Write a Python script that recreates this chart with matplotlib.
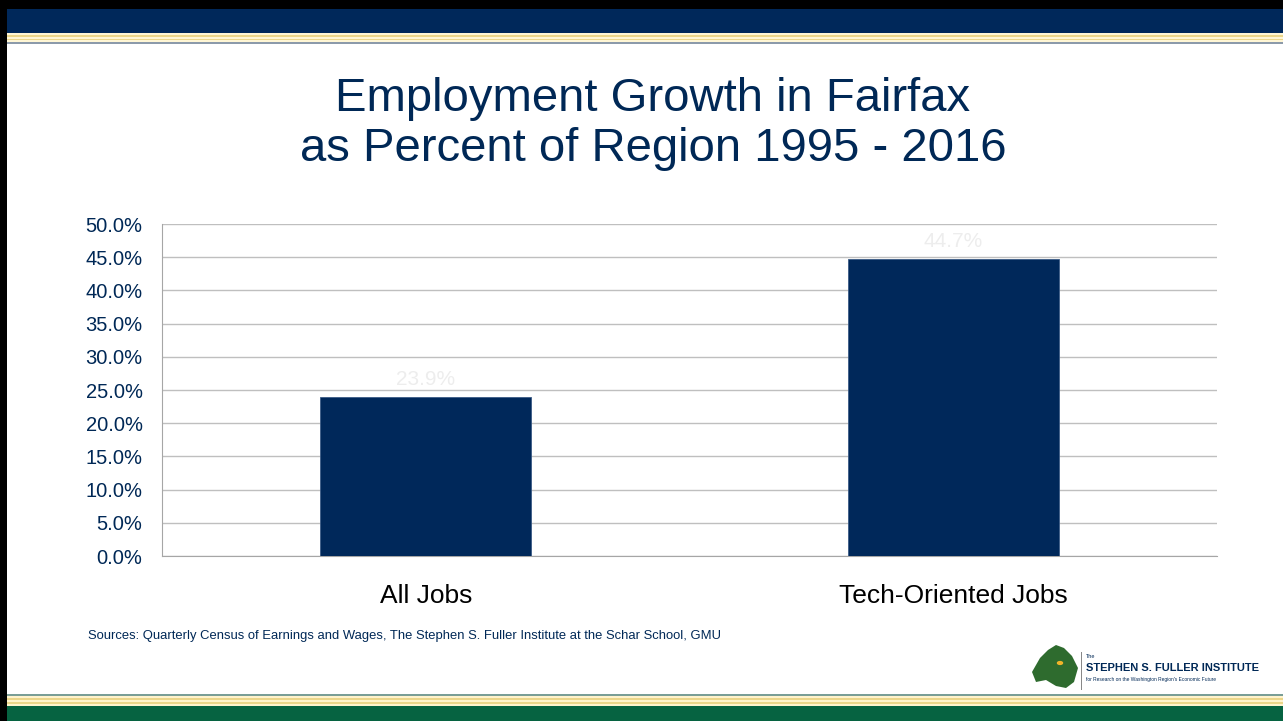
import matplotlib
matplotlib.use("Agg")
import matplotlib.pyplot as plt
from matplotlib.patches import Rectangle, Polygon

categories = ["All Jobs", "Tech-Oriented Jobs"]
values = [23.9, 44.7]
yticks = [0, 5, 10, 15, 20, 25, 30, 35, 40, 45, 50]
title = "Employment Growth in Fairfax\nas Percent of Region 1995 - 2016"
source = "Sources: Quarterly Census of Earnings and Wages, The Stephen S. Fuller Institute at the Schar School, GMU"

NAVY = "#002856"
W, H = 1283, 721
fig = plt.figure(figsize=(W/100, H/100), dpi=100)
fig.patch.set_facecolor("white")

narrow = ["Liberation Sans Narrow", "Liberation Sans", "DejaVu Sans"]
regular = ["Liberation Sans", "DejaVu Sans"]

def band(y0, y1, color, x0=0, x1=W):
    fig.add_artist(Rectangle((x0/W, 1-y1/H), (x1-x0)/W, (y1-y0)/H,
                             transform=fig.transFigure, color=color, lw=0, zorder=0))

# top decoration
band(0, 9, "black")
band(9, 33, "#00285A")
band(33, 43, "#FFF6D5")
band(35, 36.5, "#EBD68A")
band(38.5, 40, "#EBD68A")
band(42, 44, "#8C9AAA")
# bottom decoration
band(694, 695.5, "#7A9E96")
band(696, 706, "#FFF3CC")
band(698, 699.5, "#EBD68A")
band(702, 703.5, "#EBD68A")
band(706, 721, "#066341")
# left border
band(0, H, "black", 0, 7)

ax = fig.add_axes([162/W, 1-556/H, 1055/W, 332/H])
x = list(range(len(categories)))
ax.bar(x, values, width=0.4, color="#00285A", edgecolor="#3A5A85", linewidth=0.6, zorder=3)
ax.set_xlim(-0.5, len(categories)-0.5)
ax.set_ylim(0, 50)
ax.set_yticks(yticks)
ax.set_yticklabels([f"{v:.1f}%" for v in yticks], fontsize=14.5, color=NAVY, family=narrow)
ax.set_xticks(x)
ax.set_xticklabels(categories, fontsize=19, color="black", family=narrow)
ax.tick_params(axis="both", length=0)
ax.tick_params(axis="y", pad=14)
ax.tick_params(axis="x", pad=20)
ax.grid(axis="y", color="#BFBFBF", linewidth=1, zorder=0)
for s in ["top", "right"]:
    ax.spines[s].set_visible(False)
ax.spines["left"].set_color("#A6A6A6")
ax.spines["bottom"].set_color("#A6A6A6")
for xi, v in zip(x, values):
    ax.text(xi, v + 1.2, f"{v:.1f}%", ha="center", va="bottom", fontsize=15,
            color="#EDEDED", family=narrow, zorder=4)

fig.text(653/W, 1-124/H, title, ha="center", va="center", fontsize=34,
         color=NAVY, family=regular, linespacing=1.2)
fig.text(88/W, 1-636/H, source, ha="left", va="center", fontsize=9.4,
         color=NAVY, family=narrow)

# logo
blob = [(1032, 672), (1040, 658), (1048, 650), (1056, 645), (1064, 648),
        (1072, 656), (1078, 668), (1074, 682), (1066, 688), (1056, 686),
        (1046, 680), (1036, 682)]
fig.add_artist(Polygon([(px/W, 1-py/H) for px, py in blob], closed=True,
                       transform=fig.transFigure, color="#2E6B2E", lw=0))
fig.add_artist(plt.Circle((1060/W, 1-663/H), 2.5/W, transform=fig.transFigure, color="#F0B429"))
fig.add_artist(Rectangle((1081/W, 1-690/H), 1/W, 38/H, transform=fig.transFigure, color="#888888", lw=0))
fig.text(1086/W, 1-657/H, "The", fontsize=4, color=NAVY, family=narrow, va="center")
fig.text(1086/W, 1-668/H, "STEPHEN S. FULLER INSTITUTE", fontsize=8, color=NAVY,
         family=narrow, va="center", weight="bold")
fig.text(1086/W, 1-679/H, "for Research on the Washington Region's Economic Future",
         fontsize=3.5, color=NAVY, family=narrow, va="center")

fig.savefig("out.png", dpi=100)
